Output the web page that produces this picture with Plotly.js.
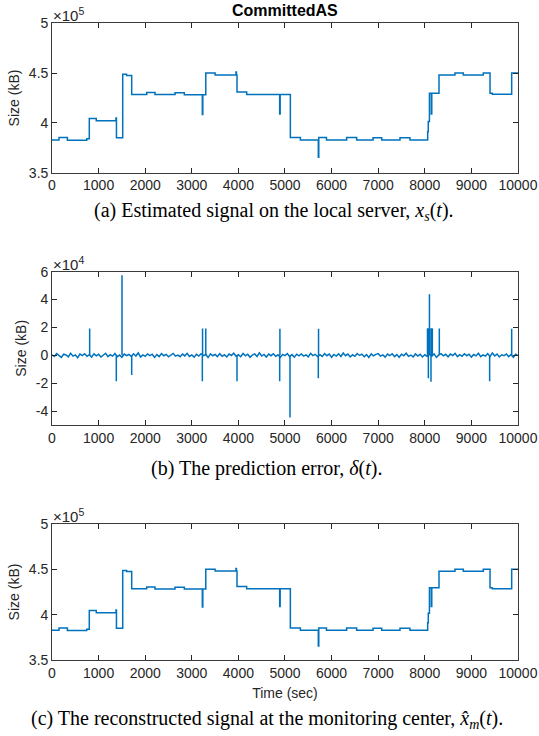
<!DOCTYPE html>
<html><head><meta charset="utf-8">
<script src="https://cdn.plot.ly/plotly-3.0.1.min.js"></script>
<style>body{margin:0;padding:0;background:#fff}</style>
</head><body><div id="chart" style="width:539px;height:736px"></div>
<script>
// ---- Data ----
// Committed AS signal (kB) as step changes: time (sec) -> level
const stepTimes = [0,150,330,745,800,950,1373,1383,1517,1600,1710,2032,2210,2640,2840,3226,3236,3300,3500,3948,3958,3970,4178,4886,4896,5115,5330,5715,5725,5890,6323,6538,6890,7075,7468,7682,8062,8075,8100,8140,8150,8305,8648,8827,9256,9400,9450,9865,10000];
const stepSizes = [382800,385300,382600,384000,404500,402200,405000,385000,448800,447500,428500,430600,428400,430300,428300,408500,428300,450200,448200,451000,448200,431000,428600,409000,428600,385300,382800,365500,385200,382800,385300,382800,385000,382800,385000,382800,391000,401500,429700,409000,429700,448000,450000,448000,450000,429700,428700,450000,450000];

// Prediction error (kB): baseline noise sampled every 50 s
const errInterval = 50;
const errNoise = [
 400,-900,1200,-300,-1500,800,200,-1100,1400,-600,300,-1800,900,-200,1100,-700,500,-1300,1000,-400,
 700,-1200,300,1500,-900,400,-600,1300,-1000,200,-1400,900,-300,600,-800,1100,-500,1700,-1200,300,
 -700,1000,-200,800,-1500,500,-900,1200,-300,700,-1100,400,1300,-600,200,-1000,900,-400,1400,-800,
 300,-1300,800,-500,1100,-200,600,-1600,1000,-300,700,-900,1200,-700,400,-1200,900,-100,1500,-600,
 500,-1000,1300,-400,800,-1400,200,1000,-800,1800,-500,600,-1200,900,-300,1100,-700,400,-1500,700,
 -200,1200,-900,500,-1300,800,-400,1000,-600,300,-1100,1400,-200,700,-1000,500,-800,1200,-300,900,
 -1400,600,-500,1100,-800,1600,-300,900,-1200,400,-700,1300,-100,800,-1000,500,-1500,1000,-400,700,
 1200,-600,300,-1300,900,-200,1100,-900,500,-1400,800,-300,1500,-700,200,-1100,1000,-500,700,-1200,
 400,-800,1300,-600,1000,-1500,300,1200,-400,700,-1100,900,-200,1400,-900,500,-700,1100,-300,800,
 -1300,600,-400,1500,-1000,300,-600,1200,-800,1700,-500,900,-1200,400,-300,1000,-900,600,-1400,800,
 -200];
// Prediction error spikes: time (sec) and value (kB)
const spikeTimes = [808,1380,1502,1710,3226,3231,3300,3970,4886,4891,5107,5715,5720,8058,8066,8077,8085,8092,8100,8110,8133,8140,8150,8162,8312,9392,9865];
const spikeValues = [19300,-18700,57500,-14100,-18700,19300,19300,-18700,-18700,19000,-44600,-16400,19000,19300,19300,-16400,19300,19300,43900,19300,-18900,19300,19300,19300,19300,-18700,19000];

// Axis tick labels
const xTicks = [0,1000,2000,3000,4000,5000,6000,7000,8000,9000,10000];
const xTickText = ['0','1000','2000','3000','4000','5000','6000','7000','8000','9000','10000'];
const sigTickVals = [350000,400000,450000,500000];
const sigTickText = ['3.5','4','4.5','5'];
const errTickVals = [-40000,-20000,0,20000,40000,60000];
const errTickText = ['-4','-2','0','2','4','6'];

// ---- Build traces ----
const blue = '#0072BD';
const errTimes = errNoise.map((_, i) => i * errInterval);
const spX = [], spY = [];
spikeTimes.forEach((t, i) => { spX.push(t, t, null); spY.push(0, spikeValues[i], null); });

const sig = (xa, ya) => ({x: stepTimes, y: stepSizes, xaxis: xa, yaxis: ya, type: 'scatter', mode: 'lines',
  line: {color: blue, width: 1.5, shape: 'hv'}, hoverinfo: 'skip'});

const traces = [
  sig('x', 'y'),
  {x: errTimes, y: errNoise, xaxis: 'x2', yaxis: 'y2', type: 'scatter', mode: 'lines', line: {color: blue, width: 1.5}, hoverinfo: 'skip'},
  {x: spX, y: spY, xaxis: 'x2', yaxis: 'y2', type: 'scatter', mode: 'lines', line: {color: blue, width: 1.5}, hoverinfo: 'skip'},
  sig('x3', 'y3')
];

const axCol = '#262626';
const sans = 'Liberation Sans, Arial, sans-serif';
const tickFont = {family: sans, size: 14, color: axCol};
const xBase = (anchor) => ({domain: [0.0965, 0.961], anchor: anchor, range: [0, 10000], tickvals: xTicks, ticktext: xTickText,
  ticks: 'inside', ticklen: 5, tickcolor: axCol, showline: true, linecolor: axCol, linewidth: 0.9, mirror: 'ticks',
  showgrid: false, zeroline: false, tickfont: tickFont});
const yBase = (dom, anchor, range, vals, text) => ({domain: dom, anchor: anchor, range: range, tickvals: vals, ticktext: text,
  ticks: 'inside', ticklen: 5, tickcolor: axCol, showline: true, linecolor: axCol, linewidth: 0.9, mirror: 'ticks',
  showgrid: false, zeroline: false, tickfont: tickFont,
  title: {text: 'Size (kB)', font: {family: sans, size: 14, color: axCol}, standoff: 5}});

const capFont = {family: 'Liberation Serif, Times New Roman, serif', size: 20, color: '#000'};
const expFont = {family: sans, size: 15, color: axCol};

const layout = {
  width: 539, height: 736, margin: {l: 0, r: 0, t: 0, b: 0},
  paper_bgcolor: '#fff', plot_bgcolor: '#fff', showlegend: false,
  xaxis: xBase('y'),
  yaxis: yBase([0.7654, 0.9683], 'x', [350000, 500000], sigTickVals, sigTickText),
  xaxis2: xBase('y2'),
  yaxis2: yBase([0.4226, 0.6308], 'x2', [-50000, 60000], errTickVals, errTickText),
  xaxis3: Object.assign(xBase('y3'), {title: {text: 'Time (sec)', font: {family: sans, size: 14, color: axCol}, standoff: 8}}),
  yaxis3: yBase([0.1033, 0.2880], 'x3', [350000, 500000], sigTickVals, sigTickText),
  annotations: [
    {text: '<b>CommittedAS</b>', x: 0.5287, y: 1 - 10/736, xref: 'paper', yref: 'paper', showarrow: false,
     xanchor: 'center', yanchor: 'middle', font: {family: sans, size: 16, color: '#000'}},
    {text: '×10<sup>5</sup>', x: 0.094, y: 0.9683, xref: 'paper', yref: 'paper', showarrow: false, xanchor: 'left', yanchor: 'bottom', yshift: -3, font: expFont},
    {text: '×10<sup>4</sup>', x: 0.094, y: 0.6308, xref: 'paper', yref: 'paper', showarrow: false, xanchor: 'left', yanchor: 'bottom', yshift: -3, font: expFont},
    {text: '×10<sup>5</sup>', x: 0.094, y: 0.2880, xref: 'paper', yref: 'paper', showarrow: false, xanchor: 'left', yanchor: 'bottom', yshift: -3, font: expFont},
    {text: '(a) Estimated signal on the local server, <i>x<sub>s</sub></i>(<i>t</i>).', x: 0.508, y: 1 - 211/736, xref: 'paper', yref: 'paper', showarrow: false, xanchor: 'center', yanchor: 'middle', font: capFont},
    {text: '(b) The prediction error, <i>δ</i>(<i>t</i>).', x: 0.494, y: 1 - 468/736, xref: 'paper', yref: 'paper', showarrow: false, xanchor: 'center', yanchor: 'middle', font: capFont},
    {text: '(c) The reconstructed signal at the monitoring center, <i>x\u0302<sub>m</sub></i>(<i>t</i>).', x: 0.496, y: 1 - 719/736, xref: 'paper', yref: 'paper', showarrow: false, xanchor: 'center', yanchor: 'middle', font: capFont}
  ]
};

Plotly.newPlot('chart', traces, layout, {staticPlot: true, displayModeBar: false});
</script>
</body></html>
